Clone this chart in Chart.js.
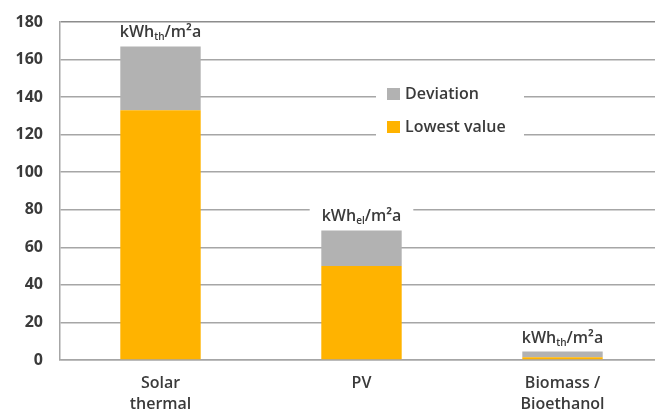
<!DOCTYPE html>
<html>
<head>
<meta charset="utf-8">
<script src="https://cdn.jsdelivr.net/npm/chart.js@4"></script>
<style>
  html, body { margin: 0; padding: 0; background: #fff; overflow: hidden; }
  #wrap { width: 655px; height: 409px; overflow: hidden; }
</style>
</head>
<body>
<div id="wrap"><canvas id="yieldChart" width="663" height="409"></canvas></div>
<script>
/* =========================
   DATA
========================= */
const categories = [["Solar", "thermal"], "PV", ["Biomass /", "Bioethanol"]];
const lowestValues = [133, 50, 1.5];
const deviationValues = [34, 19, 3];
const unitSubs = ["th", "el", "th"];
const yTicks = [0, 20, 40, 60, 80, 100, 120, 140, 160, 180];

const TEXT = '#3a3a3a';
const FONT = '"Open Sans", "DejaVu Sans", sans-serif';

/* =========================
   UNIT LABELS ABOVE BARS
========================= */
const unitLabels = {
    id: 'unitLabels',
    afterDatasetsDraw(chart) {
        const ctx = chart.ctx;
        const topMeta = chart.getDatasetMeta(1);
        topMeta.data.forEach((bar, i) => {
            const sub = unitSubs[i];
            ctx.save();
            ctx.textBaseline = 'alphabetic';
            const big = '600 16px ' + FONT;
            const small = '600 10px ' + FONT;
            ctx.font = big;
            const w1 = ctx.measureText('kWh').width;
            const w3 = ctx.measureText('/m²a').width;
            ctx.font = small;
            const w2 = ctx.measureText(sub).width;
            const total = w1 + w2 + w3;
            const x0 = bar.x - total / 2;
            const base = bar.y - 9;

            ctx.fillStyle = '#fff';
            ctx.fillRect(x0 - 12, base - 14, total + 24, 20);

            ctx.fillStyle = TEXT;
            ctx.font = big;
            ctx.fillText('kWh', x0, base);
            ctx.font = small;
            ctx.fillText(sub, x0 + w1, base + 3);
            ctx.font = big;
            ctx.fillText('/m²a', x0 + w1 + w2, base);
            ctx.restore();
        });
    }
};

/* =========================
   LEGEND INSIDE PLOT
========================= */
const innerLegend = {
    id: 'innerLegend',
    afterDatasetsDraw(chart) {
        const ctx = chart.ctx;
        const left = chart.chartArea.left + 316;
        const top = 80;
        ctx.save();
        ctx.fillStyle = '#fff';
        ctx.fillRect(left, top, 148, 60);

        const items = [chart.data.datasets[1], chart.data.datasets[0]];
        items.forEach((ds, i) => {
            const cy = top + 14 + i * 33;
            ctx.fillStyle = ds.backgroundColor;
            ctx.fillRect(left + 11, cy - 6, 13, 12);
            ctx.fillStyle = TEXT;
            ctx.font = '600 16px ' + FONT;
            ctx.textBaseline = 'middle';
            ctx.fillText(ds.label, left + 29, cy);
        });
        ctx.restore();
    }
};

/* =========================
   CHART
========================= */
const ctx = document.getElementById('yieldChart').getContext('2d');

new Chart(ctx, {
    type: 'bar',
    data: {
        labels: categories,
        datasets: [
            {
                label: 'Lowest value',
                data: lowestValues,
                backgroundColor: '#FFB300',
                barPercentage: 0.4,
                categoryPercentage: 1
            },
            {
                label: 'Deviation',
                data: deviationValues,
                backgroundColor: '#B2B2B2',
                barPercentage: 0.4,
                categoryPercentage: 1
            }
        ]
    },
    options: {
        responsive: false,
        animation: false,
        layout: { padding: { top: 22, right: 0, left: 0, bottom: 0 } },
        plugins: {
            legend: { display: false },
            tooltip: { enabled: false }
        },
        scales: {
            x: {
                stacked: true,
                grid: { display: false },
                border: { color: '#a6a6a6', width: 1.5 },
                ticks: {
                    color: TEXT,
                    font: { family: FONT, size: 16, weight: '600', lineHeight: 1.3 },
                    padding: 5,
                    maxRotation: 0
                },
                afterFit(scale) {
                    scale.height = 49;
                    scale.paddingLeft = 0;
                    scale.paddingRight = 0;
                }
            },
            y: {
                stacked: true,
                min: 0,
                max: 180,
                afterBuildTicks(scale) {
                    scale.ticks = yTicks.map(v => ({ value: v }));
                },
                grid: {
                    color: (c) => c.tick && c.tick.value === 180 ? '#8c8c8c' : '#a6a6a6',
                    lineWidth: 1.5,
                    drawTicks: false
                },
                border: { color: '#a6a6a6', width: 1.5 },
                ticks: {
                    color: TEXT,
                    font: { family: FONT, size: 16, weight: 'bold' },
                    padding: 17
                },
                afterFit(scale) {
                    scale.width = 60;
                    scale.paddingTop = 0;
                    scale.paddingBottom = 0;
                }
            }
        }
    },
    plugins: [unitLabels, innerLegend]
});
</script>
</body>
</html>
